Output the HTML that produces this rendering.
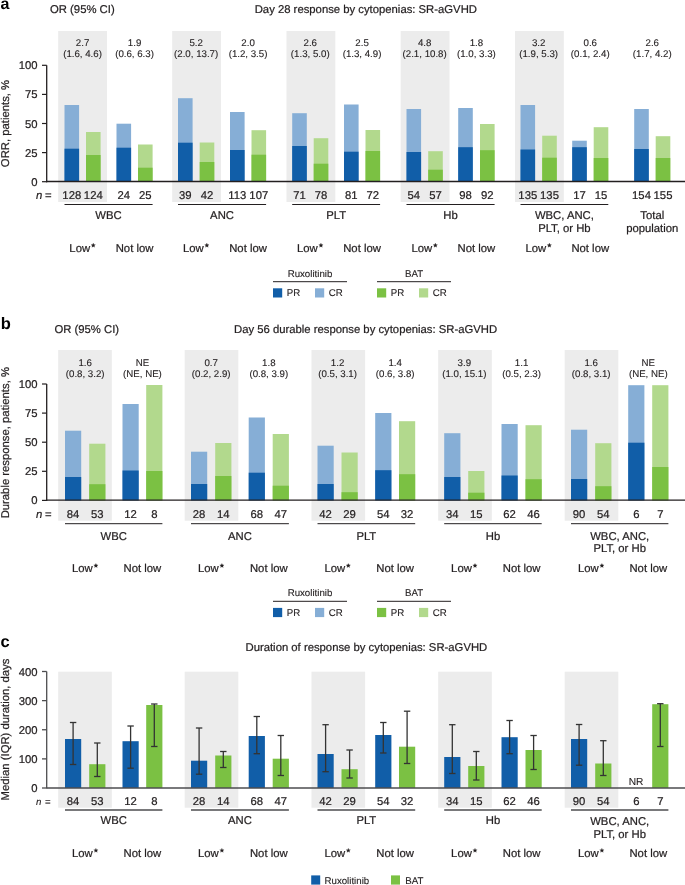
<!DOCTYPE html>
<html><head><meta charset="utf-8">
<style>
html,body{margin:0;padding:0;background:#fff;}
body{width:685px;height:885px;overflow:hidden;}
svg{display:block;font-family:"Liberation Sans", sans-serif;will-change:transform;}
</style></head>
<body>
<svg width="685" height="885" viewBox="0 0 685 885" text-rendering="geometricPrecision">
<rect x="0" y="0" width="685" height="885" fill="#fff"/>
<rect x="58.20" y="31.00" width="48.80" height="171.00" fill="#ececec"/>
<rect x="172.20" y="31.00" width="48.80" height="171.00" fill="#ececec"/>
<rect x="286.50" y="31.00" width="48.80" height="171.00" fill="#ececec"/>
<rect x="400.70" y="31.00" width="48.80" height="171.00" fill="#ececec"/>
<rect x="515.00" y="31.00" width="48.80" height="171.00" fill="#ececec"/>
<rect x="64.50" y="105.00" width="14.60" height="76.70" fill="#86aed6"/>
<rect x="64.50" y="148.70" width="14.60" height="33.00" fill="#115ea8"/>
<rect x="86.00" y="132.00" width="14.60" height="49.70" fill="#b2d98d"/>
<rect x="86.00" y="155.00" width="14.60" height="26.70" fill="#7bc143"/>
<rect x="116.50" y="123.70" width="14.60" height="58.00" fill="#86aed6"/>
<rect x="116.50" y="147.70" width="14.60" height="34.00" fill="#115ea8"/>
<rect x="138.00" y="144.50" width="14.60" height="37.20" fill="#b2d98d"/>
<rect x="138.00" y="167.70" width="14.60" height="14.00" fill="#7bc143"/>
<rect x="178.00" y="98.20" width="14.60" height="83.50" fill="#86aed6"/>
<rect x="178.00" y="142.70" width="14.60" height="39.00" fill="#115ea8"/>
<rect x="199.70" y="142.50" width="14.60" height="39.20" fill="#b2d98d"/>
<rect x="199.70" y="162.00" width="14.60" height="19.70" fill="#7bc143"/>
<rect x="230.00" y="112.00" width="14.60" height="69.70" fill="#86aed6"/>
<rect x="230.00" y="150.00" width="14.60" height="31.70" fill="#115ea8"/>
<rect x="251.50" y="130.20" width="14.60" height="51.50" fill="#b2d98d"/>
<rect x="251.50" y="154.70" width="14.60" height="27.00" fill="#7bc143"/>
<rect x="292.20" y="113.20" width="14.60" height="68.50" fill="#86aed6"/>
<rect x="292.20" y="146.00" width="14.60" height="35.70" fill="#115ea8"/>
<rect x="313.70" y="138.20" width="14.60" height="43.50" fill="#b2d98d"/>
<rect x="313.70" y="163.70" width="14.60" height="18.00" fill="#7bc143"/>
<rect x="344.00" y="104.50" width="14.60" height="77.20" fill="#86aed6"/>
<rect x="344.00" y="151.70" width="14.60" height="30.00" fill="#115ea8"/>
<rect x="365.50" y="130.00" width="14.60" height="51.70" fill="#b2d98d"/>
<rect x="365.50" y="151.00" width="14.60" height="30.70" fill="#7bc143"/>
<rect x="406.50" y="109.00" width="14.60" height="72.70" fill="#86aed6"/>
<rect x="406.50" y="152.00" width="14.60" height="29.70" fill="#115ea8"/>
<rect x="428.20" y="151.20" width="14.60" height="30.50" fill="#b2d98d"/>
<rect x="428.20" y="169.70" width="14.60" height="12.00" fill="#7bc143"/>
<rect x="458.20" y="108.00" width="14.60" height="73.70" fill="#86aed6"/>
<rect x="458.20" y="147.20" width="14.60" height="34.50" fill="#115ea8"/>
<rect x="480.00" y="124.00" width="14.60" height="57.70" fill="#b2d98d"/>
<rect x="480.00" y="150.20" width="14.60" height="31.50" fill="#7bc143"/>
<rect x="520.50" y="105.00" width="14.60" height="76.70" fill="#86aed6"/>
<rect x="520.50" y="149.50" width="14.60" height="32.20" fill="#115ea8"/>
<rect x="542.20" y="135.70" width="14.60" height="46.00" fill="#b2d98d"/>
<rect x="542.20" y="157.70" width="14.60" height="24.00" fill="#7bc143"/>
<rect x="572.20" y="140.70" width="14.60" height="41.00" fill="#86aed6"/>
<rect x="572.20" y="147.20" width="14.60" height="34.50" fill="#115ea8"/>
<rect x="593.70" y="127.20" width="14.60" height="54.50" fill="#b2d98d"/>
<rect x="593.70" y="158.00" width="14.60" height="23.70" fill="#7bc143"/>
<rect x="634.20" y="109.00" width="14.60" height="72.70" fill="#86aed6"/>
<rect x="634.20" y="149.00" width="14.60" height="32.70" fill="#115ea8"/>
<rect x="655.70" y="136.20" width="14.60" height="45.50" fill="#b2d98d"/>
<rect x="655.70" y="158.00" width="14.60" height="23.70" fill="#7bc143"/>
<line x1="46.70" y1="65.30" x2="46.70" y2="182.20" stroke="#231f20" stroke-width="1.3"/>
<line x1="46.10" y1="181.50" x2="685.00" y2="181.50" stroke="#231f20" stroke-width="1.3"/>
<line x1="42.00" y1="181.70" x2="46.70" y2="181.70" stroke="#231f20" stroke-width="1.2"/>
<text x="37.60" y="185.70" font-size="11.3" text-anchor="end" font-weight="normal" font-style="normal" fill="#231f20" stroke="#231f20" stroke-width="0.22" >0</text>
<line x1="42.00" y1="152.60" x2="46.70" y2="152.60" stroke="#231f20" stroke-width="1.2"/>
<text x="37.60" y="156.60" font-size="11.3" text-anchor="end" font-weight="normal" font-style="normal" fill="#231f20" stroke="#231f20" stroke-width="0.22" >25</text>
<line x1="42.00" y1="123.50" x2="46.70" y2="123.50" stroke="#231f20" stroke-width="1.2"/>
<text x="37.60" y="127.50" font-size="11.3" text-anchor="end" font-weight="normal" font-style="normal" fill="#231f20" stroke="#231f20" stroke-width="0.22" >50</text>
<line x1="42.00" y1="94.40" x2="46.70" y2="94.40" stroke="#231f20" stroke-width="1.2"/>
<text x="37.60" y="98.40" font-size="11.3" text-anchor="end" font-weight="normal" font-style="normal" fill="#231f20" stroke="#231f20" stroke-width="0.22" >75</text>
<line x1="42.00" y1="65.30" x2="46.70" y2="65.30" stroke="#231f20" stroke-width="1.2"/>
<text x="37.60" y="69.30" font-size="11.3" text-anchor="end" font-weight="normal" font-style="normal" fill="#231f20" stroke="#231f20" stroke-width="0.22" >100</text>
<text x="0.00" y="0.00" font-size="11.3" text-anchor="middle" font-weight="normal" font-style="normal" fill="#231f20" stroke="#231f20" stroke-width="0.22" transform="translate(9.2 123.5) rotate(-90)">ORR, patients, %</text>
<text x="36.00" y="198.70" font-size="11.3" text-anchor="start" font-weight="normal" font-style="italic" fill="#231f20" stroke="#231f20" stroke-width="0.22" >n</text>
<text x="45.00" y="198.70" font-size="11.3" text-anchor="start" font-weight="normal" font-style="normal" fill="#231f20" stroke="#231f20" stroke-width="0.22" >=</text>
<text x="71.80" y="198.70" font-size="11.3" text-anchor="middle" font-weight="normal" font-style="normal" fill="#231f20" stroke="#231f20" stroke-width="0.22" >128</text>
<text x="93.30" y="198.70" font-size="11.3" text-anchor="middle" font-weight="normal" font-style="normal" fill="#231f20" stroke="#231f20" stroke-width="0.22" >124</text>
<text x="123.80" y="198.70" font-size="11.3" text-anchor="middle" font-weight="normal" font-style="normal" fill="#231f20" stroke="#231f20" stroke-width="0.22" >24</text>
<text x="145.30" y="198.70" font-size="11.3" text-anchor="middle" font-weight="normal" font-style="normal" fill="#231f20" stroke="#231f20" stroke-width="0.22" >25</text>
<text x="185.30" y="198.70" font-size="11.3" text-anchor="middle" font-weight="normal" font-style="normal" fill="#231f20" stroke="#231f20" stroke-width="0.22" >39</text>
<text x="207.00" y="198.70" font-size="11.3" text-anchor="middle" font-weight="normal" font-style="normal" fill="#231f20" stroke="#231f20" stroke-width="0.22" >42</text>
<text x="237.30" y="198.70" font-size="11.3" text-anchor="middle" font-weight="normal" font-style="normal" fill="#231f20" stroke="#231f20" stroke-width="0.22" >113</text>
<text x="258.80" y="198.70" font-size="11.3" text-anchor="middle" font-weight="normal" font-style="normal" fill="#231f20" stroke="#231f20" stroke-width="0.22" >107</text>
<text x="299.50" y="198.70" font-size="11.3" text-anchor="middle" font-weight="normal" font-style="normal" fill="#231f20" stroke="#231f20" stroke-width="0.22" >71</text>
<text x="321.00" y="198.70" font-size="11.3" text-anchor="middle" font-weight="normal" font-style="normal" fill="#231f20" stroke="#231f20" stroke-width="0.22" >78</text>
<text x="351.30" y="198.70" font-size="11.3" text-anchor="middle" font-weight="normal" font-style="normal" fill="#231f20" stroke="#231f20" stroke-width="0.22" >81</text>
<text x="372.80" y="198.70" font-size="11.3" text-anchor="middle" font-weight="normal" font-style="normal" fill="#231f20" stroke="#231f20" stroke-width="0.22" >72</text>
<text x="413.80" y="198.70" font-size="11.3" text-anchor="middle" font-weight="normal" font-style="normal" fill="#231f20" stroke="#231f20" stroke-width="0.22" >54</text>
<text x="435.50" y="198.70" font-size="11.3" text-anchor="middle" font-weight="normal" font-style="normal" fill="#231f20" stroke="#231f20" stroke-width="0.22" >57</text>
<text x="465.50" y="198.70" font-size="11.3" text-anchor="middle" font-weight="normal" font-style="normal" fill="#231f20" stroke="#231f20" stroke-width="0.22" >98</text>
<text x="487.30" y="198.70" font-size="11.3" text-anchor="middle" font-weight="normal" font-style="normal" fill="#231f20" stroke="#231f20" stroke-width="0.22" >92</text>
<text x="527.80" y="198.70" font-size="11.3" text-anchor="middle" font-weight="normal" font-style="normal" fill="#231f20" stroke="#231f20" stroke-width="0.22" >135</text>
<text x="549.50" y="198.70" font-size="11.3" text-anchor="middle" font-weight="normal" font-style="normal" fill="#231f20" stroke="#231f20" stroke-width="0.22" >135</text>
<text x="579.50" y="198.70" font-size="11.3" text-anchor="middle" font-weight="normal" font-style="normal" fill="#231f20" stroke="#231f20" stroke-width="0.22" >17</text>
<text x="601.00" y="198.70" font-size="11.3" text-anchor="middle" font-weight="normal" font-style="normal" fill="#231f20" stroke="#231f20" stroke-width="0.22" >15</text>
<text x="641.50" y="198.70" font-size="11.3" text-anchor="middle" font-weight="normal" font-style="normal" fill="#231f20" stroke="#231f20" stroke-width="0.22" >154</text>
<text x="663.00" y="198.70" font-size="11.3" text-anchor="middle" font-weight="normal" font-style="normal" fill="#231f20" stroke="#231f20" stroke-width="0.22" >155</text>
<text x="82.55" y="46.40" font-size="9.7" text-anchor="middle" font-weight="normal" font-style="normal" fill="#231f20" stroke="#231f20" stroke-width="0.12" >2.7</text>
<text x="82.55" y="57.40" font-size="9.7" text-anchor="middle" font-weight="normal" font-style="normal" fill="#231f20" stroke="#231f20" stroke-width="0.12" >(1.6, 4.6)</text>
<text x="134.55" y="46.40" font-size="9.7" text-anchor="middle" font-weight="normal" font-style="normal" fill="#231f20" stroke="#231f20" stroke-width="0.12" >1.9</text>
<text x="134.55" y="57.40" font-size="9.7" text-anchor="middle" font-weight="normal" font-style="normal" fill="#231f20" stroke="#231f20" stroke-width="0.12" >(0.6, 6.3)</text>
<text x="196.15" y="46.40" font-size="9.7" text-anchor="middle" font-weight="normal" font-style="normal" fill="#231f20" stroke="#231f20" stroke-width="0.12" >5.2</text>
<text x="196.15" y="57.40" font-size="9.7" text-anchor="middle" font-weight="normal" font-style="normal" fill="#231f20" stroke="#231f20" stroke-width="0.12" >(2.0, 13.7)</text>
<text x="248.05" y="46.40" font-size="9.7" text-anchor="middle" font-weight="normal" font-style="normal" fill="#231f20" stroke="#231f20" stroke-width="0.12" >2.0</text>
<text x="248.05" y="57.40" font-size="9.7" text-anchor="middle" font-weight="normal" font-style="normal" fill="#231f20" stroke="#231f20" stroke-width="0.12" >(1.2, 3.5)</text>
<text x="310.25" y="46.40" font-size="9.7" text-anchor="middle" font-weight="normal" font-style="normal" fill="#231f20" stroke="#231f20" stroke-width="0.12" >2.6</text>
<text x="310.25" y="57.40" font-size="9.7" text-anchor="middle" font-weight="normal" font-style="normal" fill="#231f20" stroke="#231f20" stroke-width="0.12" >(1.3, 5.0)</text>
<text x="362.05" y="46.40" font-size="9.7" text-anchor="middle" font-weight="normal" font-style="normal" fill="#231f20" stroke="#231f20" stroke-width="0.12" >2.5</text>
<text x="362.05" y="57.40" font-size="9.7" text-anchor="middle" font-weight="normal" font-style="normal" fill="#231f20" stroke="#231f20" stroke-width="0.12" >(1.3, 4.9)</text>
<text x="424.65" y="46.40" font-size="9.7" text-anchor="middle" font-weight="normal" font-style="normal" fill="#231f20" stroke="#231f20" stroke-width="0.12" >4.8</text>
<text x="424.65" y="57.40" font-size="9.7" text-anchor="middle" font-weight="normal" font-style="normal" fill="#231f20" stroke="#231f20" stroke-width="0.12" >(2.1, 10.8)</text>
<text x="476.40" y="46.40" font-size="9.7" text-anchor="middle" font-weight="normal" font-style="normal" fill="#231f20" stroke="#231f20" stroke-width="0.12" >1.8</text>
<text x="476.40" y="57.40" font-size="9.7" text-anchor="middle" font-weight="normal" font-style="normal" fill="#231f20" stroke="#231f20" stroke-width="0.12" >(1.0, 3.3)</text>
<text x="538.65" y="46.40" font-size="9.7" text-anchor="middle" font-weight="normal" font-style="normal" fill="#231f20" stroke="#231f20" stroke-width="0.12" >3.2</text>
<text x="538.65" y="57.40" font-size="9.7" text-anchor="middle" font-weight="normal" font-style="normal" fill="#231f20" stroke="#231f20" stroke-width="0.12" >(1.9, 5.3)</text>
<text x="590.25" y="46.40" font-size="9.7" text-anchor="middle" font-weight="normal" font-style="normal" fill="#231f20" stroke="#231f20" stroke-width="0.12" >0.6</text>
<text x="590.25" y="57.40" font-size="9.7" text-anchor="middle" font-weight="normal" font-style="normal" fill="#231f20" stroke="#231f20" stroke-width="0.12" >(0.1, 2.4)</text>
<text x="652.25" y="46.40" font-size="9.7" text-anchor="middle" font-weight="normal" font-style="normal" fill="#231f20" stroke="#231f20" stroke-width="0.12" >2.6</text>
<text x="652.25" y="57.40" font-size="9.7" text-anchor="middle" font-weight="normal" font-style="normal" fill="#231f20" stroke="#231f20" stroke-width="0.12" >(1.7, 4.2)</text>
<line x1="64.50" y1="204.50" x2="152.60" y2="204.50" stroke="#231f20" stroke-width="1"/>
<text x="108.55" y="218.80" font-size="11.3" text-anchor="middle" font-weight="normal" font-style="normal" fill="#231f20" stroke="#231f20" stroke-width="0.22" >WBC</text>
<text x="69.35" y="251.50" font-size="11.3" text-anchor="start" font-weight="normal" font-style="normal" fill="#231f20" stroke="#231f20" stroke-width="0.22" >Low</text>
<polygon points="93.25,243.10 93.87,244.55 95.44,244.69 94.25,245.72 94.60,247.26 93.25,246.45 91.90,247.26 92.25,245.72 91.06,244.69 92.63,244.55" fill="#231f20" stroke="#231f20" stroke-width="0.2"/>
<text x="134.55" y="251.50" font-size="11.3" text-anchor="middle" font-weight="normal" font-style="normal" fill="#231f20" stroke="#231f20" stroke-width="0.22" >Not low</text>
<line x1="178.00" y1="204.50" x2="266.10" y2="204.50" stroke="#231f20" stroke-width="1"/>
<text x="222.05" y="218.80" font-size="11.3" text-anchor="middle" font-weight="normal" font-style="normal" fill="#231f20" stroke="#231f20" stroke-width="0.22" >ANC</text>
<text x="182.95" y="251.50" font-size="11.3" text-anchor="start" font-weight="normal" font-style="normal" fill="#231f20" stroke="#231f20" stroke-width="0.22" >Low</text>
<polygon points="206.85,243.10 207.47,244.55 209.04,244.69 207.85,245.72 208.20,247.26 206.85,246.45 205.50,247.26 205.85,245.72 204.66,244.69 206.23,244.55" fill="#231f20" stroke="#231f20" stroke-width="0.2"/>
<text x="248.05" y="251.50" font-size="11.3" text-anchor="middle" font-weight="normal" font-style="normal" fill="#231f20" stroke="#231f20" stroke-width="0.22" >Not low</text>
<line x1="292.20" y1="204.50" x2="380.10" y2="204.50" stroke="#231f20" stroke-width="1"/>
<text x="336.15" y="218.80" font-size="11.3" text-anchor="middle" font-weight="normal" font-style="normal" fill="#231f20" stroke="#231f20" stroke-width="0.22" >PLT</text>
<text x="297.05" y="251.50" font-size="11.3" text-anchor="start" font-weight="normal" font-style="normal" fill="#231f20" stroke="#231f20" stroke-width="0.22" >Low</text>
<polygon points="320.95,243.10 321.57,244.55 323.14,244.69 321.95,245.72 322.30,247.26 320.95,246.45 319.60,247.26 319.95,245.72 318.76,244.69 320.33,244.55" fill="#231f20" stroke="#231f20" stroke-width="0.2"/>
<text x="362.05" y="251.50" font-size="11.3" text-anchor="middle" font-weight="normal" font-style="normal" fill="#231f20" stroke="#231f20" stroke-width="0.22" >Not low</text>
<line x1="406.50" y1="204.50" x2="494.60" y2="204.50" stroke="#231f20" stroke-width="1"/>
<text x="450.55" y="218.80" font-size="11.3" text-anchor="middle" font-weight="normal" font-style="normal" fill="#231f20" stroke="#231f20" stroke-width="0.22" >Hb</text>
<text x="411.45" y="251.50" font-size="11.3" text-anchor="start" font-weight="normal" font-style="normal" fill="#231f20" stroke="#231f20" stroke-width="0.22" >Low</text>
<polygon points="435.35,243.10 435.97,244.55 437.54,244.69 436.35,245.72 436.70,247.26 435.35,246.45 434.00,247.26 434.35,245.72 433.16,244.69 434.73,244.55" fill="#231f20" stroke="#231f20" stroke-width="0.2"/>
<text x="476.40" y="251.50" font-size="11.3" text-anchor="middle" font-weight="normal" font-style="normal" fill="#231f20" stroke="#231f20" stroke-width="0.22" >Not low</text>
<line x1="520.50" y1="204.50" x2="608.30" y2="204.50" stroke="#231f20" stroke-width="1"/>
<text x="564.40" y="218.80" font-size="11.3" text-anchor="middle" font-weight="normal" font-style="normal" fill="#231f20" stroke="#231f20" stroke-width="0.22" >WBC, ANC,</text>
<text x="564.40" y="232.40" font-size="11.3" text-anchor="middle" font-weight="normal" font-style="normal" fill="#231f20" stroke="#231f20" stroke-width="0.22" >PLT, or Hb</text>
<text x="525.45" y="251.50" font-size="11.3" text-anchor="start" font-weight="normal" font-style="normal" fill="#231f20" stroke="#231f20" stroke-width="0.22" >Low</text>
<polygon points="549.35,243.10 549.97,244.55 551.54,244.69 550.35,245.72 550.70,247.26 549.35,246.45 548.00,247.26 548.35,245.72 547.16,244.69 548.73,244.55" fill="#231f20" stroke="#231f20" stroke-width="0.2"/>
<text x="590.25" y="251.50" font-size="11.3" text-anchor="middle" font-weight="normal" font-style="normal" fill="#231f20" stroke="#231f20" stroke-width="0.22" >Not low</text>
<text x="652.25" y="218.80" font-size="11.3" text-anchor="middle" font-weight="normal" font-style="normal" fill="#231f20" stroke="#231f20" stroke-width="0.22" >Total</text>
<text x="652.25" y="232.40" font-size="11.3" text-anchor="middle" font-weight="normal" font-style="normal" fill="#231f20" stroke="#231f20" stroke-width="0.22" >population</text>
<text x="310.00" y="276.70" font-size="9.7" text-anchor="middle" font-weight="normal" font-style="normal" fill="#231f20" stroke="#231f20" stroke-width="0.12" >Ruxolitinib</text>
<line x1="273.00" y1="281.70" x2="347.00" y2="281.70" stroke="#231f20" stroke-width="1"/>
<text x="414.00" y="276.70" font-size="9.7" text-anchor="middle" font-weight="normal" font-style="normal" fill="#231f20" stroke="#231f20" stroke-width="0.12" >BAT</text>
<line x1="377.00" y1="281.70" x2="451.00" y2="281.70" stroke="#231f20" stroke-width="1"/>
<rect x="273.00" y="288.30" width="9.20" height="9.20" fill="#115ea8"/>
<text x="286.70" y="296.30" font-size="9.7" text-anchor="start" font-weight="normal" font-style="normal" fill="#231f20" stroke="#231f20" stroke-width="0.12" >PR</text>
<rect x="315.00" y="288.30" width="9.20" height="9.20" fill="#86aed6"/>
<text x="328.70" y="296.30" font-size="9.7" text-anchor="start" font-weight="normal" font-style="normal" fill="#231f20" stroke="#231f20" stroke-width="0.12" >CR</text>
<rect x="377.00" y="288.30" width="9.20" height="9.20" fill="#7bc143"/>
<text x="390.70" y="296.30" font-size="9.7" text-anchor="start" font-weight="normal" font-style="normal" fill="#231f20" stroke="#231f20" stroke-width="0.12" >PR</text>
<rect x="419.00" y="288.30" width="9.20" height="9.20" fill="#b2d98d"/>
<text x="432.70" y="296.30" font-size="9.7" text-anchor="start" font-weight="normal" font-style="normal" fill="#231f20" stroke="#231f20" stroke-width="0.12" >CR</text>
<text x="0.60" y="9.00" font-size="16" text-anchor="start" font-weight="bold" font-style="normal" fill="#000" stroke="#000" stroke-width="0" >a</text>
<text x="50.00" y="13.30" font-size="11.3" text-anchor="start" font-weight="normal" font-style="normal" fill="#231f20" stroke="#231f20" stroke-width="0.22" >OR (95% CI)</text>
<text x="254.70" y="13.30" font-size="11.3" text-anchor="start" font-weight="normal" font-style="normal" fill="#231f20" stroke="#231f20" stroke-width="0.22" >Day 28 response by cytopenias: SR-aGVHD</text>
<rect x="58.20" y="350.00" width="53.60" height="170.70" fill="#ececec"/>
<rect x="184.70" y="350.00" width="53.60" height="170.70" fill="#ececec"/>
<rect x="311.50" y="350.00" width="53.60" height="170.70" fill="#ececec"/>
<rect x="438.20" y="350.00" width="53.60" height="170.70" fill="#ececec"/>
<rect x="564.70" y="350.00" width="53.60" height="170.70" fill="#ececec"/>
<rect x="65.00" y="430.70" width="16.20" height="69.70" fill="#86aed6"/>
<rect x="65.00" y="477.00" width="16.20" height="23.40" fill="#115ea8"/>
<rect x="89.20" y="443.70" width="16.20" height="56.70" fill="#b2d98d"/>
<rect x="89.20" y="484.20" width="16.20" height="16.20" fill="#7bc143"/>
<rect x="122.50" y="404.00" width="16.20" height="96.40" fill="#86aed6"/>
<rect x="122.50" y="470.50" width="16.20" height="29.90" fill="#115ea8"/>
<rect x="146.20" y="385.00" width="16.20" height="115.40" fill="#b2d98d"/>
<rect x="146.20" y="471.00" width="16.20" height="29.40" fill="#7bc143"/>
<rect x="191.00" y="451.70" width="16.20" height="48.70" fill="#86aed6"/>
<rect x="191.00" y="484.00" width="16.20" height="16.40" fill="#115ea8"/>
<rect x="215.20" y="443.00" width="16.20" height="57.40" fill="#b2d98d"/>
<rect x="215.20" y="476.00" width="16.20" height="24.40" fill="#7bc143"/>
<rect x="248.70" y="417.50" width="16.20" height="82.90" fill="#86aed6"/>
<rect x="248.70" y="472.70" width="16.20" height="27.70" fill="#115ea8"/>
<rect x="272.70" y="434.00" width="16.20" height="66.40" fill="#b2d98d"/>
<rect x="272.70" y="485.70" width="16.20" height="14.70" fill="#7bc143"/>
<rect x="317.50" y="445.70" width="16.20" height="54.70" fill="#86aed6"/>
<rect x="317.50" y="484.00" width="16.20" height="16.40" fill="#115ea8"/>
<rect x="341.50" y="452.50" width="16.20" height="47.90" fill="#b2d98d"/>
<rect x="341.50" y="492.20" width="16.20" height="8.20" fill="#7bc143"/>
<rect x="375.20" y="413.00" width="16.20" height="87.40" fill="#86aed6"/>
<rect x="375.20" y="470.20" width="16.20" height="30.20" fill="#115ea8"/>
<rect x="399.00" y="421.20" width="16.20" height="79.20" fill="#b2d98d"/>
<rect x="399.00" y="474.20" width="16.20" height="26.20" fill="#7bc143"/>
<rect x="444.20" y="433.20" width="16.20" height="67.20" fill="#86aed6"/>
<rect x="444.20" y="477.00" width="16.20" height="23.40" fill="#115ea8"/>
<rect x="468.20" y="471.00" width="16.20" height="29.40" fill="#b2d98d"/>
<rect x="468.20" y="492.70" width="16.20" height="7.70" fill="#7bc143"/>
<rect x="501.50" y="424.00" width="16.20" height="76.40" fill="#86aed6"/>
<rect x="501.50" y="475.50" width="16.20" height="24.90" fill="#115ea8"/>
<rect x="525.50" y="425.20" width="16.20" height="75.20" fill="#b2d98d"/>
<rect x="525.50" y="479.20" width="16.20" height="21.20" fill="#7bc143"/>
<rect x="571.00" y="429.70" width="16.20" height="70.70" fill="#86aed6"/>
<rect x="571.00" y="479.00" width="16.20" height="21.40" fill="#115ea8"/>
<rect x="595.20" y="443.20" width="16.20" height="57.20" fill="#b2d98d"/>
<rect x="595.20" y="486.20" width="16.20" height="14.20" fill="#7bc143"/>
<rect x="628.20" y="385.20" width="16.20" height="115.20" fill="#86aed6"/>
<rect x="628.20" y="442.70" width="16.20" height="57.70" fill="#115ea8"/>
<rect x="652.20" y="385.20" width="16.20" height="115.20" fill="#b2d98d"/>
<rect x="652.20" y="467.00" width="16.20" height="33.40" fill="#7bc143"/>
<line x1="46.70" y1="384.00" x2="46.70" y2="500.90" stroke="#231f20" stroke-width="1.3"/>
<line x1="46.10" y1="500.20" x2="685.00" y2="500.20" stroke="#231f20" stroke-width="1.3"/>
<line x1="42.00" y1="500.40" x2="46.70" y2="500.40" stroke="#231f20" stroke-width="1.2"/>
<text x="37.60" y="504.40" font-size="11.3" text-anchor="end" font-weight="normal" font-style="normal" fill="#231f20" stroke="#231f20" stroke-width="0.22" >0</text>
<line x1="42.00" y1="471.30" x2="46.70" y2="471.30" stroke="#231f20" stroke-width="1.2"/>
<text x="37.60" y="475.30" font-size="11.3" text-anchor="end" font-weight="normal" font-style="normal" fill="#231f20" stroke="#231f20" stroke-width="0.22" >25</text>
<line x1="42.00" y1="442.20" x2="46.70" y2="442.20" stroke="#231f20" stroke-width="1.2"/>
<text x="37.60" y="446.20" font-size="11.3" text-anchor="end" font-weight="normal" font-style="normal" fill="#231f20" stroke="#231f20" stroke-width="0.22" >50</text>
<line x1="42.00" y1="413.10" x2="46.70" y2="413.10" stroke="#231f20" stroke-width="1.2"/>
<text x="37.60" y="417.10" font-size="11.3" text-anchor="end" font-weight="normal" font-style="normal" fill="#231f20" stroke="#231f20" stroke-width="0.22" >75</text>
<line x1="42.00" y1="384.00" x2="46.70" y2="384.00" stroke="#231f20" stroke-width="1.2"/>
<text x="37.60" y="388.00" font-size="11.3" text-anchor="end" font-weight="normal" font-style="normal" fill="#231f20" stroke="#231f20" stroke-width="0.22" >100</text>
<text x="0.00" y="0.00" font-size="11.3" text-anchor="middle" font-weight="normal" font-style="normal" fill="#231f20" stroke="#231f20" stroke-width="0.22" transform="translate(9.2 442.7) rotate(-90)">Durable response, patients, %</text>
<text x="36.00" y="517.50" font-size="11.3" text-anchor="start" font-weight="normal" font-style="italic" fill="#231f20" stroke="#231f20" stroke-width="0.22" >n</text>
<text x="45.00" y="517.50" font-size="11.3" text-anchor="start" font-weight="normal" font-style="normal" fill="#231f20" stroke="#231f20" stroke-width="0.22" >=</text>
<text x="73.10" y="517.50" font-size="11.3" text-anchor="middle" font-weight="normal" font-style="normal" fill="#231f20" stroke="#231f20" stroke-width="0.22" >84</text>
<text x="97.30" y="517.50" font-size="11.3" text-anchor="middle" font-weight="normal" font-style="normal" fill="#231f20" stroke="#231f20" stroke-width="0.22" >53</text>
<text x="130.60" y="517.50" font-size="11.3" text-anchor="middle" font-weight="normal" font-style="normal" fill="#231f20" stroke="#231f20" stroke-width="0.22" >12</text>
<text x="154.30" y="517.50" font-size="11.3" text-anchor="middle" font-weight="normal" font-style="normal" fill="#231f20" stroke="#231f20" stroke-width="0.22" >8</text>
<text x="199.10" y="517.50" font-size="11.3" text-anchor="middle" font-weight="normal" font-style="normal" fill="#231f20" stroke="#231f20" stroke-width="0.22" >28</text>
<text x="223.30" y="517.50" font-size="11.3" text-anchor="middle" font-weight="normal" font-style="normal" fill="#231f20" stroke="#231f20" stroke-width="0.22" >14</text>
<text x="256.80" y="517.50" font-size="11.3" text-anchor="middle" font-weight="normal" font-style="normal" fill="#231f20" stroke="#231f20" stroke-width="0.22" >68</text>
<text x="280.80" y="517.50" font-size="11.3" text-anchor="middle" font-weight="normal" font-style="normal" fill="#231f20" stroke="#231f20" stroke-width="0.22" >47</text>
<text x="325.60" y="517.50" font-size="11.3" text-anchor="middle" font-weight="normal" font-style="normal" fill="#231f20" stroke="#231f20" stroke-width="0.22" >42</text>
<text x="349.60" y="517.50" font-size="11.3" text-anchor="middle" font-weight="normal" font-style="normal" fill="#231f20" stroke="#231f20" stroke-width="0.22" >29</text>
<text x="383.30" y="517.50" font-size="11.3" text-anchor="middle" font-weight="normal" font-style="normal" fill="#231f20" stroke="#231f20" stroke-width="0.22" >54</text>
<text x="407.10" y="517.50" font-size="11.3" text-anchor="middle" font-weight="normal" font-style="normal" fill="#231f20" stroke="#231f20" stroke-width="0.22" >32</text>
<text x="452.30" y="517.50" font-size="11.3" text-anchor="middle" font-weight="normal" font-style="normal" fill="#231f20" stroke="#231f20" stroke-width="0.22" >34</text>
<text x="476.30" y="517.50" font-size="11.3" text-anchor="middle" font-weight="normal" font-style="normal" fill="#231f20" stroke="#231f20" stroke-width="0.22" >15</text>
<text x="509.60" y="517.50" font-size="11.3" text-anchor="middle" font-weight="normal" font-style="normal" fill="#231f20" stroke="#231f20" stroke-width="0.22" >62</text>
<text x="533.60" y="517.50" font-size="11.3" text-anchor="middle" font-weight="normal" font-style="normal" fill="#231f20" stroke="#231f20" stroke-width="0.22" >46</text>
<text x="579.10" y="517.50" font-size="11.3" text-anchor="middle" font-weight="normal" font-style="normal" fill="#231f20" stroke="#231f20" stroke-width="0.22" >90</text>
<text x="603.30" y="517.50" font-size="11.3" text-anchor="middle" font-weight="normal" font-style="normal" fill="#231f20" stroke="#231f20" stroke-width="0.22" >54</text>
<text x="636.30" y="517.50" font-size="11.3" text-anchor="middle" font-weight="normal" font-style="normal" fill="#231f20" stroke="#231f20" stroke-width="0.22" >6</text>
<text x="660.30" y="517.50" font-size="11.3" text-anchor="middle" font-weight="normal" font-style="normal" fill="#231f20" stroke="#231f20" stroke-width="0.22" >7</text>
<text x="85.20" y="365.50" font-size="9.7" text-anchor="middle" font-weight="normal" font-style="normal" fill="#231f20" stroke="#231f20" stroke-width="0.12" >1.6</text>
<text x="85.20" y="377.40" font-size="9.7" text-anchor="middle" font-weight="normal" font-style="normal" fill="#231f20" stroke="#231f20" stroke-width="0.12" >(0.8, 3.2)</text>
<text x="142.45" y="365.50" font-size="9.7" text-anchor="middle" font-weight="normal" font-style="normal" fill="#231f20" stroke="#231f20" stroke-width="0.12" >NE</text>
<text x="142.45" y="377.40" font-size="9.7" text-anchor="middle" font-weight="normal" font-style="normal" fill="#231f20" stroke="#231f20" stroke-width="0.12" >(NE, NE)</text>
<text x="211.20" y="365.50" font-size="9.7" text-anchor="middle" font-weight="normal" font-style="normal" fill="#231f20" stroke="#231f20" stroke-width="0.12" >0.7</text>
<text x="211.20" y="377.40" font-size="9.7" text-anchor="middle" font-weight="normal" font-style="normal" fill="#231f20" stroke="#231f20" stroke-width="0.12" >(0.2, 2.9)</text>
<text x="268.80" y="365.50" font-size="9.7" text-anchor="middle" font-weight="normal" font-style="normal" fill="#231f20" stroke="#231f20" stroke-width="0.12" >1.8</text>
<text x="268.80" y="377.40" font-size="9.7" text-anchor="middle" font-weight="normal" font-style="normal" fill="#231f20" stroke="#231f20" stroke-width="0.12" >(0.8, 3.9)</text>
<text x="337.60" y="365.50" font-size="9.7" text-anchor="middle" font-weight="normal" font-style="normal" fill="#231f20" stroke="#231f20" stroke-width="0.12" >1.2</text>
<text x="337.60" y="377.40" font-size="9.7" text-anchor="middle" font-weight="normal" font-style="normal" fill="#231f20" stroke="#231f20" stroke-width="0.12" >(0.5, 3.1)</text>
<text x="395.20" y="365.50" font-size="9.7" text-anchor="middle" font-weight="normal" font-style="normal" fill="#231f20" stroke="#231f20" stroke-width="0.12" >1.4</text>
<text x="395.20" y="377.40" font-size="9.7" text-anchor="middle" font-weight="normal" font-style="normal" fill="#231f20" stroke="#231f20" stroke-width="0.12" >(0.6, 3.8)</text>
<text x="464.30" y="365.50" font-size="9.7" text-anchor="middle" font-weight="normal" font-style="normal" fill="#231f20" stroke="#231f20" stroke-width="0.12" >3.9</text>
<text x="464.30" y="377.40" font-size="9.7" text-anchor="middle" font-weight="normal" font-style="normal" fill="#231f20" stroke="#231f20" stroke-width="0.12" >(1.0, 15.1)</text>
<text x="521.60" y="365.50" font-size="9.7" text-anchor="middle" font-weight="normal" font-style="normal" fill="#231f20" stroke="#231f20" stroke-width="0.12" >1.1</text>
<text x="521.60" y="377.40" font-size="9.7" text-anchor="middle" font-weight="normal" font-style="normal" fill="#231f20" stroke="#231f20" stroke-width="0.12" >(0.5, 2.3)</text>
<text x="591.20" y="365.50" font-size="9.7" text-anchor="middle" font-weight="normal" font-style="normal" fill="#231f20" stroke="#231f20" stroke-width="0.12" >1.6</text>
<text x="591.20" y="377.40" font-size="9.7" text-anchor="middle" font-weight="normal" font-style="normal" fill="#231f20" stroke="#231f20" stroke-width="0.12" >(0.8, 3.1)</text>
<text x="648.30" y="365.50" font-size="9.7" text-anchor="middle" font-weight="normal" font-style="normal" fill="#231f20" stroke="#231f20" stroke-width="0.12" >NE</text>
<text x="648.30" y="377.40" font-size="9.7" text-anchor="middle" font-weight="normal" font-style="normal" fill="#231f20" stroke="#231f20" stroke-width="0.12" >(NE, NE)</text>
<line x1="65.00" y1="523.70" x2="162.40" y2="523.70" stroke="#231f20" stroke-width="1"/>
<text x="113.70" y="539.60" font-size="11.3" text-anchor="middle" font-weight="normal" font-style="normal" fill="#231f20" stroke="#231f20" stroke-width="0.22" >WBC</text>
<text x="72.00" y="571.80" font-size="11.3" text-anchor="start" font-weight="normal" font-style="normal" fill="#231f20" stroke="#231f20" stroke-width="0.22" >Low</text>
<polygon points="95.90,563.40 96.52,564.85 98.09,564.99 96.90,566.02 97.25,567.56 95.90,566.75 94.55,567.56 94.90,566.02 93.71,564.99 95.28,564.85" fill="#231f20" stroke="#231f20" stroke-width="0.2"/>
<text x="142.45" y="571.80" font-size="11.3" text-anchor="middle" font-weight="normal" font-style="normal" fill="#231f20" stroke="#231f20" stroke-width="0.22" >Not low</text>
<line x1="191.00" y1="523.70" x2="288.90" y2="523.70" stroke="#231f20" stroke-width="1"/>
<text x="239.95" y="539.60" font-size="11.3" text-anchor="middle" font-weight="normal" font-style="normal" fill="#231f20" stroke="#231f20" stroke-width="0.22" >ANC</text>
<text x="198.00" y="571.80" font-size="11.3" text-anchor="start" font-weight="normal" font-style="normal" fill="#231f20" stroke="#231f20" stroke-width="0.22" >Low</text>
<polygon points="221.90,563.40 222.52,564.85 224.09,564.99 222.90,566.02 223.25,567.56 221.90,566.75 220.55,567.56 220.90,566.02 219.71,564.99 221.28,564.85" fill="#231f20" stroke="#231f20" stroke-width="0.2"/>
<text x="268.80" y="571.80" font-size="11.3" text-anchor="middle" font-weight="normal" font-style="normal" fill="#231f20" stroke="#231f20" stroke-width="0.22" >Not low</text>
<line x1="317.50" y1="523.70" x2="415.20" y2="523.70" stroke="#231f20" stroke-width="1"/>
<text x="366.35" y="539.60" font-size="11.3" text-anchor="middle" font-weight="normal" font-style="normal" fill="#231f20" stroke="#231f20" stroke-width="0.22" >PLT</text>
<text x="324.40" y="571.80" font-size="11.3" text-anchor="start" font-weight="normal" font-style="normal" fill="#231f20" stroke="#231f20" stroke-width="0.22" >Low</text>
<polygon points="348.30,563.40 348.92,564.85 350.49,564.99 349.30,566.02 349.65,567.56 348.30,566.75 346.95,567.56 347.30,566.02 346.11,564.99 347.68,564.85" fill="#231f20" stroke="#231f20" stroke-width="0.2"/>
<text x="395.20" y="571.80" font-size="11.3" text-anchor="middle" font-weight="normal" font-style="normal" fill="#231f20" stroke="#231f20" stroke-width="0.22" >Not low</text>
<line x1="444.20" y1="523.70" x2="541.70" y2="523.70" stroke="#231f20" stroke-width="1"/>
<text x="492.95" y="539.60" font-size="11.3" text-anchor="middle" font-weight="normal" font-style="normal" fill="#231f20" stroke="#231f20" stroke-width="0.22" >Hb</text>
<text x="451.10" y="571.80" font-size="11.3" text-anchor="start" font-weight="normal" font-style="normal" fill="#231f20" stroke="#231f20" stroke-width="0.22" >Low</text>
<polygon points="475.00,563.40 475.62,564.85 477.19,564.99 476.00,566.02 476.35,567.56 475.00,566.75 473.65,567.56 474.00,566.02 472.81,564.99 474.38,564.85" fill="#231f20" stroke="#231f20" stroke-width="0.2"/>
<text x="521.60" y="571.80" font-size="11.3" text-anchor="middle" font-weight="normal" font-style="normal" fill="#231f20" stroke="#231f20" stroke-width="0.22" >Not low</text>
<line x1="571.00" y1="523.70" x2="668.40" y2="523.70" stroke="#231f20" stroke-width="1"/>
<text x="619.70" y="539.60" font-size="11.3" text-anchor="middle" font-weight="normal" font-style="normal" fill="#231f20" stroke="#231f20" stroke-width="0.22" >WBC, ANC,</text>
<text x="619.70" y="552.30" font-size="11.3" text-anchor="middle" font-weight="normal" font-style="normal" fill="#231f20" stroke="#231f20" stroke-width="0.22" >PLT, or Hb</text>
<text x="578.00" y="571.80" font-size="11.3" text-anchor="start" font-weight="normal" font-style="normal" fill="#231f20" stroke="#231f20" stroke-width="0.22" >Low</text>
<polygon points="601.90,563.40 602.52,564.85 604.09,564.99 602.90,566.02 603.25,567.56 601.90,566.75 600.55,567.56 600.90,566.02 599.71,564.99 601.28,564.85" fill="#231f20" stroke="#231f20" stroke-width="0.2"/>
<text x="648.30" y="571.80" font-size="11.3" text-anchor="middle" font-weight="normal" font-style="normal" fill="#231f20" stroke="#231f20" stroke-width="0.22" >Not low</text>
<text x="310.00" y="596.30" font-size="9.7" text-anchor="middle" font-weight="normal" font-style="normal" fill="#231f20" stroke="#231f20" stroke-width="0.12" >Ruxolitinib</text>
<line x1="273.00" y1="601.30" x2="347.00" y2="601.30" stroke="#231f20" stroke-width="1"/>
<text x="414.00" y="596.30" font-size="9.7" text-anchor="middle" font-weight="normal" font-style="normal" fill="#231f20" stroke="#231f20" stroke-width="0.12" >BAT</text>
<line x1="377.00" y1="601.30" x2="451.00" y2="601.30" stroke="#231f20" stroke-width="1"/>
<rect x="273.00" y="607.90" width="9.20" height="9.20" fill="#115ea8"/>
<text x="286.70" y="615.90" font-size="9.7" text-anchor="start" font-weight="normal" font-style="normal" fill="#231f20" stroke="#231f20" stroke-width="0.12" >PR</text>
<rect x="315.00" y="607.90" width="9.20" height="9.20" fill="#86aed6"/>
<text x="328.70" y="615.90" font-size="9.7" text-anchor="start" font-weight="normal" font-style="normal" fill="#231f20" stroke="#231f20" stroke-width="0.12" >CR</text>
<rect x="377.00" y="607.90" width="9.20" height="9.20" fill="#7bc143"/>
<text x="390.70" y="615.90" font-size="9.7" text-anchor="start" font-weight="normal" font-style="normal" fill="#231f20" stroke="#231f20" stroke-width="0.12" >PR</text>
<rect x="419.00" y="607.90" width="9.20" height="9.20" fill="#b2d98d"/>
<text x="432.70" y="615.90" font-size="9.7" text-anchor="start" font-weight="normal" font-style="normal" fill="#231f20" stroke="#231f20" stroke-width="0.12" >CR</text>
<text x="0.80" y="328.80" font-size="16.5" text-anchor="start" font-weight="bold" font-style="normal" fill="#000" stroke="#000" stroke-width="0" >b</text>
<text x="54.40" y="333.20" font-size="11.3" text-anchor="start" font-weight="normal" font-style="normal" fill="#231f20" stroke="#231f20" stroke-width="0.22" >OR (95% CI)</text>
<text x="234.00" y="333.20" font-size="11.3" text-anchor="start" font-weight="normal" font-style="normal" fill="#231f20" stroke="#231f20" stroke-width="0.22" >Day 56 durable response by cytopenias: SR-aGVHD</text>
<rect x="58.20" y="671.70" width="53.60" height="136.00" fill="#ececec"/>
<rect x="184.70" y="671.70" width="53.60" height="136.00" fill="#ececec"/>
<rect x="311.50" y="671.70" width="53.60" height="136.00" fill="#ececec"/>
<rect x="438.20" y="671.70" width="53.60" height="136.00" fill="#ececec"/>
<rect x="564.70" y="671.70" width="53.60" height="136.00" fill="#ececec"/>
<rect x="65.00" y="739.00" width="16.20" height="49.00" fill="#115ea8"/>
<line x1="73.10" y1="722.50" x2="73.10" y2="764.50" stroke="#333" stroke-width="1.3"/>
<line x1="69.90" y1="722.50" x2="76.30" y2="722.50" stroke="#333" stroke-width="1.3"/>
<line x1="69.90" y1="764.50" x2="76.30" y2="764.50" stroke="#333" stroke-width="1.3"/>
<rect x="89.20" y="764.20" width="16.20" height="23.80" fill="#7bc143"/>
<line x1="97.30" y1="743.00" x2="97.30" y2="776.50" stroke="#333" stroke-width="1.3"/>
<line x1="94.10" y1="743.00" x2="100.50" y2="743.00" stroke="#333" stroke-width="1.3"/>
<line x1="94.10" y1="776.50" x2="100.50" y2="776.50" stroke="#333" stroke-width="1.3"/>
<rect x="122.50" y="741.20" width="16.20" height="46.80" fill="#115ea8"/>
<line x1="130.60" y1="726.00" x2="130.60" y2="768.20" stroke="#333" stroke-width="1.3"/>
<line x1="127.40" y1="726.00" x2="133.80" y2="726.00" stroke="#333" stroke-width="1.3"/>
<line x1="127.40" y1="768.20" x2="133.80" y2="768.20" stroke="#333" stroke-width="1.3"/>
<rect x="146.20" y="705.00" width="16.20" height="83.00" fill="#7bc143"/>
<line x1="154.30" y1="704.00" x2="154.30" y2="746.50" stroke="#333" stroke-width="1.3"/>
<line x1="151.10" y1="704.00" x2="157.50" y2="704.00" stroke="#333" stroke-width="1.3"/>
<line x1="151.10" y1="746.50" x2="157.50" y2="746.50" stroke="#333" stroke-width="1.3"/>
<rect x="191.00" y="760.70" width="16.20" height="27.30" fill="#115ea8"/>
<line x1="199.10" y1="728.00" x2="199.10" y2="774.20" stroke="#333" stroke-width="1.3"/>
<line x1="195.90" y1="728.00" x2="202.30" y2="728.00" stroke="#333" stroke-width="1.3"/>
<line x1="195.90" y1="774.20" x2="202.30" y2="774.20" stroke="#333" stroke-width="1.3"/>
<rect x="215.20" y="755.50" width="16.20" height="32.50" fill="#7bc143"/>
<line x1="223.30" y1="751.50" x2="223.30" y2="767.50" stroke="#333" stroke-width="1.3"/>
<line x1="220.10" y1="751.50" x2="226.50" y2="751.50" stroke="#333" stroke-width="1.3"/>
<line x1="220.10" y1="767.50" x2="226.50" y2="767.50" stroke="#333" stroke-width="1.3"/>
<rect x="248.70" y="736.00" width="16.20" height="52.00" fill="#115ea8"/>
<line x1="256.80" y1="716.50" x2="256.80" y2="753.70" stroke="#333" stroke-width="1.3"/>
<line x1="253.60" y1="716.50" x2="260.00" y2="716.50" stroke="#333" stroke-width="1.3"/>
<line x1="253.60" y1="753.70" x2="260.00" y2="753.70" stroke="#333" stroke-width="1.3"/>
<rect x="272.70" y="758.70" width="16.20" height="29.30" fill="#7bc143"/>
<line x1="280.80" y1="735.50" x2="280.80" y2="775.50" stroke="#333" stroke-width="1.3"/>
<line x1="277.60" y1="735.50" x2="284.00" y2="735.50" stroke="#333" stroke-width="1.3"/>
<line x1="277.60" y1="775.50" x2="284.00" y2="775.50" stroke="#333" stroke-width="1.3"/>
<rect x="317.50" y="754.00" width="16.20" height="34.00" fill="#115ea8"/>
<line x1="325.60" y1="724.70" x2="325.60" y2="771.70" stroke="#333" stroke-width="1.3"/>
<line x1="322.40" y1="724.70" x2="328.80" y2="724.70" stroke="#333" stroke-width="1.3"/>
<line x1="322.40" y1="771.70" x2="328.80" y2="771.70" stroke="#333" stroke-width="1.3"/>
<rect x="341.50" y="769.20" width="16.20" height="18.80" fill="#7bc143"/>
<line x1="349.60" y1="750.00" x2="349.60" y2="778.00" stroke="#333" stroke-width="1.3"/>
<line x1="346.40" y1="750.00" x2="352.80" y2="750.00" stroke="#333" stroke-width="1.3"/>
<line x1="346.40" y1="778.00" x2="352.80" y2="778.00" stroke="#333" stroke-width="1.3"/>
<rect x="375.20" y="735.00" width="16.20" height="53.00" fill="#115ea8"/>
<line x1="383.30" y1="722.50" x2="383.30" y2="753.00" stroke="#333" stroke-width="1.3"/>
<line x1="380.10" y1="722.50" x2="386.50" y2="722.50" stroke="#333" stroke-width="1.3"/>
<line x1="380.10" y1="753.00" x2="386.50" y2="753.00" stroke="#333" stroke-width="1.3"/>
<rect x="399.00" y="746.70" width="16.20" height="41.30" fill="#7bc143"/>
<line x1="407.10" y1="711.20" x2="407.10" y2="763.50" stroke="#333" stroke-width="1.3"/>
<line x1="403.90" y1="711.20" x2="410.30" y2="711.20" stroke="#333" stroke-width="1.3"/>
<line x1="403.90" y1="763.50" x2="410.30" y2="763.50" stroke="#333" stroke-width="1.3"/>
<rect x="444.20" y="757.00" width="16.20" height="31.00" fill="#115ea8"/>
<line x1="452.30" y1="724.70" x2="452.30" y2="773.50" stroke="#333" stroke-width="1.3"/>
<line x1="449.10" y1="724.70" x2="455.50" y2="724.70" stroke="#333" stroke-width="1.3"/>
<line x1="449.10" y1="773.50" x2="455.50" y2="773.50" stroke="#333" stroke-width="1.3"/>
<rect x="468.20" y="766.00" width="16.20" height="22.00" fill="#7bc143"/>
<line x1="476.30" y1="751.50" x2="476.30" y2="780.00" stroke="#333" stroke-width="1.3"/>
<line x1="473.10" y1="751.50" x2="479.50" y2="751.50" stroke="#333" stroke-width="1.3"/>
<line x1="473.10" y1="780.00" x2="479.50" y2="780.00" stroke="#333" stroke-width="1.3"/>
<rect x="501.50" y="737.20" width="16.20" height="50.80" fill="#115ea8"/>
<line x1="509.60" y1="720.50" x2="509.60" y2="753.70" stroke="#333" stroke-width="1.3"/>
<line x1="506.40" y1="720.50" x2="512.80" y2="720.50" stroke="#333" stroke-width="1.3"/>
<line x1="506.40" y1="753.70" x2="512.80" y2="753.70" stroke="#333" stroke-width="1.3"/>
<rect x="525.50" y="750.00" width="16.20" height="38.00" fill="#7bc143"/>
<line x1="533.60" y1="735.50" x2="533.60" y2="769.50" stroke="#333" stroke-width="1.3"/>
<line x1="530.40" y1="735.50" x2="536.80" y2="735.50" stroke="#333" stroke-width="1.3"/>
<line x1="530.40" y1="769.50" x2="536.80" y2="769.50" stroke="#333" stroke-width="1.3"/>
<rect x="571.00" y="739.00" width="16.20" height="49.00" fill="#115ea8"/>
<line x1="579.10" y1="724.50" x2="579.10" y2="765.20" stroke="#333" stroke-width="1.3"/>
<line x1="575.90" y1="724.50" x2="582.30" y2="724.50" stroke="#333" stroke-width="1.3"/>
<line x1="575.90" y1="765.20" x2="582.30" y2="765.20" stroke="#333" stroke-width="1.3"/>
<rect x="595.20" y="763.50" width="16.20" height="24.50" fill="#7bc143"/>
<line x1="603.30" y1="740.70" x2="603.30" y2="775.50" stroke="#333" stroke-width="1.3"/>
<line x1="600.10" y1="740.70" x2="606.50" y2="740.70" stroke="#333" stroke-width="1.3"/>
<line x1="600.10" y1="775.50" x2="606.50" y2="775.50" stroke="#333" stroke-width="1.3"/>
<rect x="652.20" y="704.20" width="16.20" height="83.80" fill="#7bc143"/>
<line x1="660.30" y1="703.70" x2="660.30" y2="746.50" stroke="#333" stroke-width="1.3"/>
<line x1="657.10" y1="703.70" x2="663.50" y2="703.70" stroke="#333" stroke-width="1.3"/>
<line x1="657.10" y1="746.50" x2="663.50" y2="746.50" stroke="#333" stroke-width="1.3"/>
<text x="636.10" y="784.80" font-size="10.2" text-anchor="middle" font-weight="normal" font-style="normal" fill="#231f20" stroke="#231f20" stroke-width="0.12" >NR</text>
<line x1="46.70" y1="671.50" x2="46.70" y2="788.50" stroke="#4d4d4f" stroke-width="1.3"/>
<line x1="46.70" y1="788.00" x2="685.00" y2="788.00" stroke="#4d4d4f" stroke-width="1.3"/>
<line x1="42.00" y1="788.00" x2="46.70" y2="788.00" stroke="#4d4d4f" stroke-width="1.3"/>
<text x="37.60" y="792.40" font-size="11.3" text-anchor="end" font-weight="normal" font-style="normal" fill="#231f20" stroke="#231f20" stroke-width="0.22" >0</text>
<line x1="42.00" y1="758.88" x2="46.70" y2="758.88" stroke="#4d4d4f" stroke-width="1.3"/>
<text x="37.60" y="763.27" font-size="11.3" text-anchor="end" font-weight="normal" font-style="normal" fill="#231f20" stroke="#231f20" stroke-width="0.22" >100</text>
<line x1="42.00" y1="729.75" x2="46.70" y2="729.75" stroke="#4d4d4f" stroke-width="1.3"/>
<text x="37.60" y="734.15" font-size="11.3" text-anchor="end" font-weight="normal" font-style="normal" fill="#231f20" stroke="#231f20" stroke-width="0.22" >200</text>
<line x1="42.00" y1="700.62" x2="46.70" y2="700.62" stroke="#4d4d4f" stroke-width="1.3"/>
<text x="37.60" y="705.02" font-size="11.3" text-anchor="end" font-weight="normal" font-style="normal" fill="#231f20" stroke="#231f20" stroke-width="0.22" >300</text>
<line x1="42.00" y1="671.50" x2="46.70" y2="671.50" stroke="#4d4d4f" stroke-width="1.3"/>
<text x="37.60" y="675.90" font-size="11.3" text-anchor="end" font-weight="normal" font-style="normal" fill="#231f20" stroke="#231f20" stroke-width="0.22" >400</text>
<text x="0.00" y="0.00" font-size="11.3" text-anchor="middle" font-weight="normal" font-style="normal" fill="#231f20" stroke="#231f20" stroke-width="0.22" transform="translate(9.2 729.5) rotate(-90)">Median (IQR) duration, days</text>
<text x="36.00" y="804.50" font-size="9.7" text-anchor="start" font-weight="normal" font-style="italic" fill="#231f20" stroke="#231f20" stroke-width="0.12" >n</text>
<text x="45.00" y="804.50" font-size="9.7" text-anchor="start" font-weight="normal" font-style="normal" fill="#231f20" stroke="#231f20" stroke-width="0.12" >=</text>
<text x="73.10" y="804.50" font-size="11.3" text-anchor="middle" font-weight="normal" font-style="normal" fill="#231f20" stroke="#231f20" stroke-width="0.22" >84</text>
<text x="97.30" y="804.50" font-size="11.3" text-anchor="middle" font-weight="normal" font-style="normal" fill="#231f20" stroke="#231f20" stroke-width="0.22" >53</text>
<text x="130.60" y="804.50" font-size="11.3" text-anchor="middle" font-weight="normal" font-style="normal" fill="#231f20" stroke="#231f20" stroke-width="0.22" >12</text>
<text x="154.30" y="804.50" font-size="11.3" text-anchor="middle" font-weight="normal" font-style="normal" fill="#231f20" stroke="#231f20" stroke-width="0.22" >8</text>
<text x="199.10" y="804.50" font-size="11.3" text-anchor="middle" font-weight="normal" font-style="normal" fill="#231f20" stroke="#231f20" stroke-width="0.22" >28</text>
<text x="223.30" y="804.50" font-size="11.3" text-anchor="middle" font-weight="normal" font-style="normal" fill="#231f20" stroke="#231f20" stroke-width="0.22" >14</text>
<text x="256.80" y="804.50" font-size="11.3" text-anchor="middle" font-weight="normal" font-style="normal" fill="#231f20" stroke="#231f20" stroke-width="0.22" >68</text>
<text x="280.80" y="804.50" font-size="11.3" text-anchor="middle" font-weight="normal" font-style="normal" fill="#231f20" stroke="#231f20" stroke-width="0.22" >47</text>
<text x="325.60" y="804.50" font-size="11.3" text-anchor="middle" font-weight="normal" font-style="normal" fill="#231f20" stroke="#231f20" stroke-width="0.22" >42</text>
<text x="349.60" y="804.50" font-size="11.3" text-anchor="middle" font-weight="normal" font-style="normal" fill="#231f20" stroke="#231f20" stroke-width="0.22" >29</text>
<text x="383.30" y="804.50" font-size="11.3" text-anchor="middle" font-weight="normal" font-style="normal" fill="#231f20" stroke="#231f20" stroke-width="0.22" >54</text>
<text x="407.10" y="804.50" font-size="11.3" text-anchor="middle" font-weight="normal" font-style="normal" fill="#231f20" stroke="#231f20" stroke-width="0.22" >32</text>
<text x="452.30" y="804.50" font-size="11.3" text-anchor="middle" font-weight="normal" font-style="normal" fill="#231f20" stroke="#231f20" stroke-width="0.22" >34</text>
<text x="476.30" y="804.50" font-size="11.3" text-anchor="middle" font-weight="normal" font-style="normal" fill="#231f20" stroke="#231f20" stroke-width="0.22" >15</text>
<text x="509.60" y="804.50" font-size="11.3" text-anchor="middle" font-weight="normal" font-style="normal" fill="#231f20" stroke="#231f20" stroke-width="0.22" >62</text>
<text x="533.60" y="804.50" font-size="11.3" text-anchor="middle" font-weight="normal" font-style="normal" fill="#231f20" stroke="#231f20" stroke-width="0.22" >46</text>
<text x="579.10" y="804.50" font-size="11.3" text-anchor="middle" font-weight="normal" font-style="normal" fill="#231f20" stroke="#231f20" stroke-width="0.22" >90</text>
<text x="603.30" y="804.50" font-size="11.3" text-anchor="middle" font-weight="normal" font-style="normal" fill="#231f20" stroke="#231f20" stroke-width="0.22" >54</text>
<text x="636.30" y="804.50" font-size="11.3" text-anchor="middle" font-weight="normal" font-style="normal" fill="#231f20" stroke="#231f20" stroke-width="0.22" >6</text>
<text x="660.30" y="804.50" font-size="11.3" text-anchor="middle" font-weight="normal" font-style="normal" fill="#231f20" stroke="#231f20" stroke-width="0.22" >7</text>
<line x1="65.00" y1="810.00" x2="162.40" y2="810.00" stroke="#4d4d4f" stroke-width="1.3"/>
<text x="113.70" y="824.20" font-size="11.3" text-anchor="middle" font-weight="normal" font-style="normal" fill="#231f20" stroke="#231f20" stroke-width="0.22" >WBC</text>
<text x="72.00" y="856.60" font-size="11.3" text-anchor="start" font-weight="normal" font-style="normal" fill="#231f20" stroke="#231f20" stroke-width="0.22" >Low</text>
<polygon points="95.90,848.20 96.52,849.65 98.09,849.79 96.90,850.82 97.25,852.36 95.90,851.55 94.55,852.36 94.90,850.82 93.71,849.79 95.28,849.65" fill="#231f20" stroke="#231f20" stroke-width="0.2"/>
<text x="142.45" y="856.60" font-size="11.3" text-anchor="middle" font-weight="normal" font-style="normal" fill="#231f20" stroke="#231f20" stroke-width="0.22" >Not low</text>
<line x1="191.00" y1="810.00" x2="288.90" y2="810.00" stroke="#4d4d4f" stroke-width="1.3"/>
<text x="239.95" y="824.20" font-size="11.3" text-anchor="middle" font-weight="normal" font-style="normal" fill="#231f20" stroke="#231f20" stroke-width="0.22" >ANC</text>
<text x="198.00" y="856.60" font-size="11.3" text-anchor="start" font-weight="normal" font-style="normal" fill="#231f20" stroke="#231f20" stroke-width="0.22" >Low</text>
<polygon points="221.90,848.20 222.52,849.65 224.09,849.79 222.90,850.82 223.25,852.36 221.90,851.55 220.55,852.36 220.90,850.82 219.71,849.79 221.28,849.65" fill="#231f20" stroke="#231f20" stroke-width="0.2"/>
<text x="268.80" y="856.60" font-size="11.3" text-anchor="middle" font-weight="normal" font-style="normal" fill="#231f20" stroke="#231f20" stroke-width="0.22" >Not low</text>
<line x1="317.50" y1="810.00" x2="415.20" y2="810.00" stroke="#4d4d4f" stroke-width="1.3"/>
<text x="366.35" y="824.20" font-size="11.3" text-anchor="middle" font-weight="normal" font-style="normal" fill="#231f20" stroke="#231f20" stroke-width="0.22" >PLT</text>
<text x="324.40" y="856.60" font-size="11.3" text-anchor="start" font-weight="normal" font-style="normal" fill="#231f20" stroke="#231f20" stroke-width="0.22" >Low</text>
<polygon points="348.30,848.20 348.92,849.65 350.49,849.79 349.30,850.82 349.65,852.36 348.30,851.55 346.95,852.36 347.30,850.82 346.11,849.79 347.68,849.65" fill="#231f20" stroke="#231f20" stroke-width="0.2"/>
<text x="395.20" y="856.60" font-size="11.3" text-anchor="middle" font-weight="normal" font-style="normal" fill="#231f20" stroke="#231f20" stroke-width="0.22" >Not low</text>
<line x1="444.20" y1="810.00" x2="541.70" y2="810.00" stroke="#4d4d4f" stroke-width="1.3"/>
<text x="492.95" y="824.20" font-size="11.3" text-anchor="middle" font-weight="normal" font-style="normal" fill="#231f20" stroke="#231f20" stroke-width="0.22" >Hb</text>
<text x="451.10" y="856.60" font-size="11.3" text-anchor="start" font-weight="normal" font-style="normal" fill="#231f20" stroke="#231f20" stroke-width="0.22" >Low</text>
<polygon points="475.00,848.20 475.62,849.65 477.19,849.79 476.00,850.82 476.35,852.36 475.00,851.55 473.65,852.36 474.00,850.82 472.81,849.79 474.38,849.65" fill="#231f20" stroke="#231f20" stroke-width="0.2"/>
<text x="521.60" y="856.60" font-size="11.3" text-anchor="middle" font-weight="normal" font-style="normal" fill="#231f20" stroke="#231f20" stroke-width="0.22" >Not low</text>
<line x1="571.00" y1="810.00" x2="668.40" y2="810.00" stroke="#4d4d4f" stroke-width="1.3"/>
<text x="619.70" y="825.00" font-size="11.3" text-anchor="middle" font-weight="normal" font-style="normal" fill="#231f20" stroke="#231f20" stroke-width="0.22" >WBC, ANC,</text>
<text x="619.70" y="837.50" font-size="11.3" text-anchor="middle" font-weight="normal" font-style="normal" fill="#231f20" stroke="#231f20" stroke-width="0.22" >PLT, or Hb</text>
<text x="578.00" y="856.60" font-size="11.3" text-anchor="start" font-weight="normal" font-style="normal" fill="#231f20" stroke="#231f20" stroke-width="0.22" >Low</text>
<polygon points="601.90,848.20 602.52,849.65 604.09,849.79 602.90,850.82 603.25,852.36 601.90,851.55 600.55,852.36 600.90,850.82 599.71,849.79 601.28,849.65" fill="#231f20" stroke="#231f20" stroke-width="0.2"/>
<text x="648.30" y="856.60" font-size="11.3" text-anchor="middle" font-weight="normal" font-style="normal" fill="#231f20" stroke="#231f20" stroke-width="0.22" >Not low</text>
<rect x="311.20" y="875.40" width="9.00" height="9.20" fill="#115ea8"/>
<text x="324.50" y="883.60" font-size="9.7" text-anchor="start" font-weight="normal" font-style="normal" fill="#231f20" stroke="#231f20" stroke-width="0.12" >Ruxolitinib</text>
<rect x="391.00" y="875.40" width="9.00" height="9.20" fill="#7bc143"/>
<text x="405.20" y="883.60" font-size="9.7" text-anchor="start" font-weight="normal" font-style="normal" fill="#231f20" stroke="#231f20" stroke-width="0.12" >BAT</text>
<text x="0.40" y="647.40" font-size="16.5" text-anchor="start" font-weight="bold" font-style="normal" fill="#000" stroke="#000" stroke-width="0" >c</text>
<text x="245.50" y="651.20" font-size="11.3" text-anchor="start" font-weight="normal" font-style="normal" fill="#231f20" stroke="#231f20" stroke-width="0.22" >Duration of response by cytopenias: SR-aGVHD</text>
</svg>
</body></html>
